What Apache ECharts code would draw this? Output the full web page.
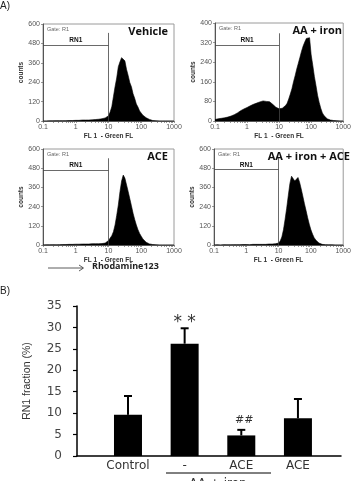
<!DOCTYPE html>
<html>
<head>
<meta charset="utf-8">
<script src="https://cdn.jsdelivr.net/npm/echarts@6/dist/echarts.min.js"></script>
<style>
  html, body { margin: 0; padding: 0; background: #fff; }
  #chart-container { width: 354px; height: 481px; }
</style>
</head>
<body>
<div id="chart-container"></div>
<script>
var dom = document.getElementById("chart-container");
var myChart = echarts.init(dom, null, { renderer: "canvas" });

// FL1 channel bins (log10 of fluorescence)
var flBins = [
  -1.00, -0.95, -0.90, -0.85, -0.80, -0.75, -0.70, -0.65, -0.60, -0.55, -0.50,
  -0.45, -0.40, -0.35, -0.30, -0.25, -0.20, -0.15, -0.10, -0.05, 0.00,
  0.05, 0.10, 0.15, 0.20, 0.25, 0.30, 0.35, 0.40, 0.45, 0.50,
  0.55, 0.60, 0.65, 0.70, 0.75, 0.80, 0.85, 0.90,
  0.95, 1.00, 1.05, 1.10, 1.15, 1.20, 1.25, 1.30, 1.35, 1.40,
  1.45, 1.50, 1.55, 1.60, 1.65, 1.70, 1.75, 1.80, 1.85, 1.90,
  1.95, 2.00, 2.05, 2.10, 2.15, 2.20, 2.25, 2.30, 2.35, 2.40,
  2.45, 2.50, 2.55, 2.60, 2.65, 2.70, 2.75, 2.80, 2.85, 2.90, 2.95, 3.00
];

var vehicleCounts = [
  0, 1, 0, 1, 1, 0, 1, 1, 2, 1, 2,
  2, 2, 3, 2, 3, 3, 4, 3, 4, 4,
  5, 4, 5, 6, 5, 6, 7, 6, 8, 7,
  8, 9, 10, 11, 12, 14, 16, 19,
  24, 32, 55, 88, 150, 212, 266, 336, 366, 392,
  380, 372, 320, 282, 238, 212, 168, 140, 105, 86,
  62, 50, 36, 28, 20, 14, 10, 6, 3, 2,
  1, 1, 0, 1, 0, 0, 0, 0, 0, 0, 0, 0
];

var aaIronCounts = [
  6, 8, 9, 10, 11, 12, 13, 14, 16, 18, 20,
  23, 26, 29, 33, 38, 42, 45, 49, 52, 55,
  58, 62, 65, 68, 71, 73, 75, 78, 80, 82,
  84, 80, 85, 79, 76, 68, 64, 56, 54, 50,
  50, 52, 56, 63, 72, 90, 110, 132, 160, 185,
  212, 236, 260, 285, 306, 322, 337, 330, 340, 270,
  228, 182, 145, 105, 76, 52, 33, 22, 14, 9,
  6, 4, 3, 2, 1, 1, 0, 0, 0, 0
];

var aceCounts = [
  0, 1, 1, 0, 1, 1, 2, 1, 1, 2, 2,
  2, 3, 2, 3, 3, 4, 3, 4, 4, 5,
  4, 5, 5, 6, 5, 6, 7, 6, 7, 8,
  7, 8, 9, 8, 10, 9, 10, 12,
  18, 28, 40, 58, 83, 125, 185, 250, 333, 400,
  437, 418, 430, 335, 290, 245, 198, 160, 125, 96,
  72, 54, 38, 26, 17, 11, 7, 4, 3, 2,
  1, 1, 0, 1, 0, 0, 0, 0, 0, 0, 0, 0
];

var aaIronAceCounts = [
  0, 1, 1, 1, 0, 1, 2, 1, 1, 2, 1,
  2, 2, 1, 2, 3, 2, 2, 3, 2, 3,
  3, 2, 3, 4, 3, 4, 3, 4, 5, 4,
  5, 4, 5, 6, 5, 6, 7, 8,
  9, 12, 25, 50, 95, 160, 230, 310, 385, 430,
  440, 400, 412, 422, 392, 350, 305, 258, 215, 170,
  130, 95, 68, 46, 31, 20, 12, 7, 4, 3,
  2, 1, 1, 0, 1, 0, 0, 0, 0, 0, 0, 0
];

var panelTitles = ["Vehicle", "AA + iron", "ACE", "AA + iron + ACE"];
var panelCounts = [vehicleCounts, aaIronCounts, aceCounts, aaIronAceCounts];
var panelYMax = [600, 400, 600, 600];
var gateTop = [545, 358, 542, 545];
var rn1Level = [470, 310, 469, 473];
var decadeLabels = ["0.1", "1", "10", "100", "1000"];

// panel B
var barGroups = ["Control", "-", "ACE", "ACE"];
var rn1Mean = [9.6, 26.2, 4.8, 8.8];
var rn1Err = [4.4, 3.6, 1.3, 4.5];
var rn1Marks = ["", "* *", "##", ""];

var panelBoxes = [
  { left: 43, top: 24, width: 131, height: 97 },
  { left: 215, top: 23, width: 133, height: 98 },
  { left: 43, top: 149, width: 131, height: 96 },
  { left: 214, top: 149, width: 134, height: 96 }
];

// log minor ticks
var logTicks = [];
for (var d = -1; d < 3; d++) {
  for (var m = 1; m < 10; m++) logTicks.push(d + Math.log10(m));
}
logTicks.push(3);

var grids = [], xAxes = [], yAxes = [], series = [], graphics = [];

panelBoxes.forEach(function (b, i) {
  grids.push({
    left: b.left, top: b.top, width: b.width, height: b.height,
    show: true, borderColor: "#9a9a9a", borderWidth: 1, containLabel: false
  });
  xAxes.push({
    type: "value", gridIndex: i, min: -1, max: 3, interval: 1,
    axisLine: { show: true, onZero: false, lineStyle: { color: "#555", width: 1 } },
    axisTick: { show: true, length: 2, customValues: logTicks, lineStyle: { color: "#555", width: 0.6 } },
    axisLabel: {
      fontSize: 7, color: "#555", margin: 3, fontFamily: "Liberation Sans",
      formatter: function (v) { return decadeLabels[Math.round(v) + 1]; }
    },
    splitLine: { show: false },
    name: "FL 1  - Green FL", nameLocation: "middle", nameGap: 12,
    nameTextStyle: { fontSize: 6.5, fontWeight: "bold", color: "#333", fontFamily: "Liberation Sans" }
  });
  yAxes.push({
    type: "value", gridIndex: i, min: 0, max: panelYMax[i], interval: panelYMax[i] / 5,
    axisLine: { show: true, onZero: false, lineStyle: { color: "#555", width: 1 } },
    axisTick: { show: true, length: 2, lineStyle: { color: "#555", width: 0.6 } },
    axisLabel: { fontSize: 7, color: "#555", margin: 3, fontFamily: "Liberation Sans" },
    splitLine: { show: false },
    name: "counts", nameLocation: "middle", nameGap: 17,
    nameTextStyle: { fontSize: 6.5, fontWeight: "bold", color: "#333", fontFamily: "Liberation Sans" }
  });
  series.push({
    type: "line", xAxisIndex: i, yAxisIndex: i,
    data: flBins.map(function (x, k) { return [x, panelCounts[i][k]]; }),
    symbol: "none", silent: true,
    lineStyle: { color: "#000", width: 0.6 },
    areaStyle: { color: "#000", opacity: 1 },
    markLine: {
      symbol: "none", silent: true, animation: false,
      lineStyle: { color: "#444", width: 0.8, type: "solid" },
      label: { show: false },
      data: [
        [{ coord: [1, 0] }, { coord: [1, gateTop[i]] }],
        [
          {
            coord: [-1, rn1Level[i]],
            label: {
              show: true, formatter: "RN1", position: "middle", distance: 1,
              fontSize: 6.5, fontWeight: "bold", color: "#111", fontFamily: "Liberation Sans"
            }
          },
          { coord: [1, rn1Level[i]] }
        ]
      ]
    }
  });
  graphics.push({
    type: "text", left: b.left + 4, top: b.top + 2,
    style: { text: "Gate: R1", fontSize: 5.5, fill: "#666", fontFamily: "Liberation Sans" }
  });
  graphics.push({
    type: "text", right: 354 - (b.left + b.width) + (i === 3 ? -2 : 6), top: b.top + 2,
    style: { text: panelTitles[i], fontSize: 11, fontWeight: "bold", fill: "#111", fontFamily: "Open Sans" }
  });
});

// panel B
grids.push({ left: 77, top: 306, width: 264, height: 150 });
xAxes.push({
  type: "value", gridIndex: 4, min: 0.1, max: 4.76,
  axisLine: { show: true, onZero: false, lineStyle: { color: "#000", width: 1.5 } },
  axisTick: { show: false },
  splitLine: { show: false },
  axisLabel: {
    customValues: [1, 2, 3, 4], margin: 4, fontSize: 12, color: "#333", fontFamily: "DejaVu Sans",
    formatter: function (v) { return barGroups[Math.round(v) - 1]; }
  }
});
yAxes.push({
  type: "value", gridIndex: 4, min: 0, max: 35, interval: 5,
  axisLine: { show: true, onZero: false, lineStyle: { color: "#000", width: 1.5 } },
  axisTick: { show: true, length: 4, lineStyle: { color: "#000", width: 1.2 } },
  axisLabel: { fontSize: 12, color: "#444", margin: 15, fontFamily: "DejaVu Sans" },
  splitLine: { show: false },
  name: "RN1 fraction (%)", nameLocation: "middle", nameGap: 44,
  nameTextStyle: { fontSize: 10.5, color: "#333", fontFamily: "Liberation Sans" }
});
series.push({
  type: "bar", xAxisIndex: 4, yAxisIndex: 4, barWidth: 28,
  itemStyle: { color: "#000" },
  data: rn1Mean.map(function (v, k) { return [k + 1, v]; })
});
series.push({
  type: "custom", xAxisIndex: 4, yAxisIndex: 4, silent: true, z: 3,
  data: rn1Mean.map(function (v, k) { return [k + 1, v, v + rn1Err[k]]; }),
  renderItem: function (params, api) {
    var base = api.coord([api.value(0), api.value(1)]);
    var top = api.coord([api.value(0), api.value(2)]);
    var mark = rn1Marks[params.dataIndex];
    var children = [
      { type: "line", shape: { x1: base[0], y1: base[1], x2: top[0], y2: top[1] }, style: { stroke: "#000", lineWidth: 2 } },
      { type: "line", shape: { x1: top[0] - 4, y1: top[1], x2: top[0] + 4, y2: top[1] }, style: { stroke: "#000", lineWidth: 2 } }
    ];
    if (mark) {
      children.push({
        type: "text",
        x: top[0] + (mark === "##" ? 3 : 0), y: top[1] - (mark === "##" ? 10 : 6),
        style: {
          text: mark, align: "center", verticalAlign: "middle",
          fontSize: mark === "##" ? 11 : 17, fill: "#333", fontFamily: "DejaVu Sans"
        }
      });
    }
    return { type: "group", children: children };
  }
});

graphics.push(
  { type: "text", left: 0, top: 1, style: { text: "A)", fontSize: 10, fill: "#222", fontFamily: "Liberation Sans" } },
  { type: "text", left: 0, top: 286, style: { text: "B)", fontSize: 10, fill: "#222", fontFamily: "Liberation Sans" } },
  { type: "line", shape: { x1: 48, y1: 268, x2: 83, y2: 268 }, style: { stroke: "#333", lineWidth: 0.8 } },
  { type: "polyline", shape: { points: [[79, 265], [83.5, 268], [79, 271]] }, style: { stroke: "#333", lineWidth: 0.8, fill: null } },
  { type: "text", left: 92, top: 262, style: { text: "Rhodamine123", fontSize: 9, fontWeight: "bold", fill: "#222", fontFamily: "Open Sans" } },
  { type: "line", shape: { x1: 166, y1: 473, x2: 271, y2: 473 }, style: { stroke: "#000", lineWidth: 1 } },
  { type: "text", x: 218, y: 478, style: { text: "AA + iron", align: "center", fontSize: 12, fill: "#333", fontFamily: "DejaVu Sans" } }
);

var option = {
  animation: false,
  backgroundColor: "#fff",
  grid: grids,
  xAxis: xAxes,
  yAxis: yAxes,
  series: series,
  graphic: graphics
};

myChart.setOption(option);
window.addEventListener("resize", myChart.resize);
</script>
</body>
</html>
